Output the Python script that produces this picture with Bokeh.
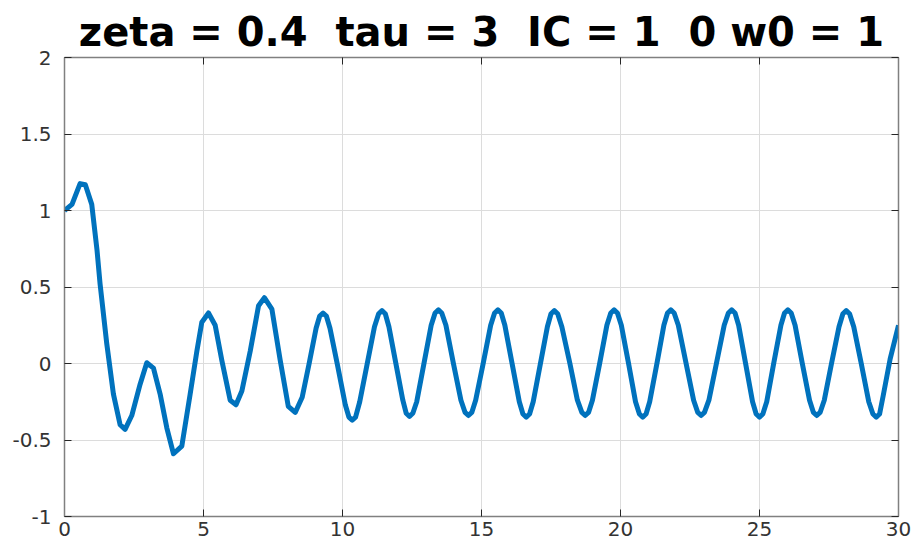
from bokeh.plotting import figure
from bokeh.embed import file_html
from bokeh.resources import INLINE
from bokeh.models import LinearAxis, Range1d, FixedTicker

NB = "\u00a0"
title_text = "zeta = 0.4" + NB + NB + "tau = 3" + NB + NB + "IC = 1" + NB + NB + "0 w0 = 1"
x_ticks = [0, 5, 10, 15, 20, 25, 30]
y_ticks = [-1, -0.5, 0, 0.5, 1, 1.5, 2]
y_tick_labels = ["-1", "-0.5", "0", "0.5", "1", "1.5", "2"]

t = [0, 0.27, 0.56, 0.75, 0.98, 1.17, 1.28, 1.52, 1.76, 2.0, 2.18, 2.42, 2.72, 2.96,
     3.2, 3.44, 3.68, 3.92, 4.22, 4.52, 4.76, 4.94, 5.18, 5.42, 5.66, 5.96, 6.17, 6.38,
     6.68, 6.98, 7.19, 7.46, 7.76, 8.05, 8.3, 8.55,
     8.8, 9.05, 9.18, 9.3, 9.42, 9.55, 9.83, 10.1, 10.23, 10.35, 10.47, 10.62, 10.88,
     11.15, 11.3, 11.42, 11.54, 11.67, 11.92, 12.17, 12.29, 12.41, 12.53, 12.67, 12.93,
     13.19, 13.33, 13.45, 13.57, 13.72, 13.99, 14.26, 14.41, 14.53, 14.65, 14.79, 15.06,
     15.33, 15.47, 15.59, 15.71, 15.84, 16.1, 16.36, 16.49, 16.61, 16.73, 16.86, 17.12,
     17.37, 17.5, 17.62, 17.74, 17.89, 18.18, 18.45, 18.61, 18.73, 18.85, 18.99, 19.25,
     19.51, 19.65, 19.77, 19.89, 20.03, 20.29, 20.54, 20.68, 20.8, 20.92, 21.05, 21.31,
     21.56, 21.69, 21.81, 21.93, 22.08, 22.36, 22.63, 22.78, 22.9, 23.02, 23.18, 23.45,
     23.73, 23.88, 24.0, 24.12, 24.25, 24.5, 24.75, 24.88, 25.0, 25.12, 25.26, 25.51,
     25.77, 25.9, 26.02, 26.14, 26.28, 26.54, 26.8, 26.94, 27.06, 27.18, 27.33, 27.59,
     27.86, 28.0, 28.12, 28.24, 28.39, 28.66, 28.93, 29.08, 29.2, 29.32, 29.45, 29.7, 30.0]
y = [1.0, 1.04, 1.176, 1.168, 1.04, 0.74, 0.52, 0.13, -0.2, -0.40, -0.43, -0.34, -0.135, 0.005,
     -0.03, -0.2, -0.42, -0.59, -0.54, -0.2, 0.08, 0.27, 0.33, 0.25, 0.02, -0.24, -0.27, -0.18,
     0.08, 0.377, 0.43, 0.355, 0.02, -0.28, -0.32, -0.22,
     0.0, 0.23, 0.31, 0.33, 0.31, 0.23, -0.02, -0.27, -0.35, -0.37, -0.35, -0.25, -0.01,
     0.24, 0.325, 0.345, 0.325, 0.24, 0.0, -0.24, -0.325, -0.345, -0.325, -0.25, 0.0,
     0.25, 0.33, 0.35, 0.33, 0.25, 0.0, -0.24, -0.32, -0.34, -0.32, -0.24, 0.0,
     0.25, 0.33, 0.35, 0.33, 0.25, 0.0, -0.25, -0.33, -0.35, -0.33, -0.25, 0.0,
     0.24, 0.325, 0.345, 0.325, 0.24, 0.0, -0.24, -0.32, -0.34, -0.32, -0.24, 0.0,
     0.25, 0.33, 0.35, 0.33, 0.25, 0.0, -0.25, -0.33, -0.35, -0.33, -0.25, 0.0,
     0.25, 0.33, 0.35, 0.33, 0.25, 0.0, -0.24, -0.32, -0.34, -0.32, -0.24, 0.0,
     0.25, 0.33, 0.35, 0.33, 0.25, 0.0, -0.25, -0.33, -0.35, -0.33, -0.25, 0.0,
     0.25, 0.33, 0.35, 0.33, 0.25, 0.0, -0.24, -0.32, -0.34, -0.32, -0.24, 0.0,
     0.24, 0.325, 0.345, 0.325, 0.24, 0.0, -0.25, -0.33, -0.35, -0.33, -0.21, 0.03, 0.25]

assert len(t) == len(y), (len(t), len(y))

AX = "#333333"
FONT = "DejaVu Sans"

p = figure(width=912, height=543, output_backend="svg", toolbar_location=None,
           x_range=Range1d(0, 30), y_range=Range1d(-1, 2),
           min_border_left=64, min_border_right=14, min_border_top=57, min_border_bottom=27,
           x_axis_location=None, y_axis_location=None)
p.background_fill_color = "white"
p.border_fill_color = "white"
p.outline_line_color = None

overrides = {v: s for v, s in zip(y_ticks, y_tick_labels)}

def style_axis(ax, labels=True):
    ax.axis_line_color = "#808080"
    ax.axis_line_width = 1.5
    ax.major_tick_line_color = "#262626"
    ax.major_tick_in = 7
    ax.major_tick_out = 0
    ax.minor_tick_line_color = None
    if not labels:
        ax.major_label_text_font_size = "0px"
        ax.major_label_text_color = None

xb = LinearAxis(ticker=FixedTicker(ticks=x_ticks))
style_axis(xb)
xb.major_label_text_font = FONT
xb.major_label_text_font_size = "20px"
xb.major_label_text_color = AX
xb.major_label_standoff = 5
p.add_layout(xb, "below")

yl = LinearAxis(ticker=FixedTicker(ticks=y_ticks))
style_axis(yl)
yl.major_label_overrides = overrides
yl.major_label_text_font = FONT
yl.major_label_text_font_size = "20px"
yl.major_label_text_color = AX
yl.major_label_standoff = 13
p.add_layout(yl, "left")

xt = LinearAxis(ticker=FixedTicker(ticks=x_ticks))
style_axis(xt, labels=False)
p.add_layout(xt, "above")

yr = LinearAxis(ticker=FixedTicker(ticks=y_ticks))
style_axis(yr, labels=False)
p.add_layout(yr, "right")

p.xgrid.ticker = FixedTicker(ticks=x_ticks)
p.ygrid.ticker = FixedTicker(ticks=y_ticks)
p.grid.grid_line_color = "#dcdcdc"
p.grid.grid_line_width = 1

p.title.text = title_text
p.title.text_font = FONT
p.title.text_font_style = "bold"
p.title.text_font_size = "40px"
p.title.text_color = "black"
p.title.align = "center"
p.title.standoff = 6

p.line(t, y, line_color="#0072BD", line_width=5, line_join="round")

open("out.html", "w").write(file_html(p, INLINE))
